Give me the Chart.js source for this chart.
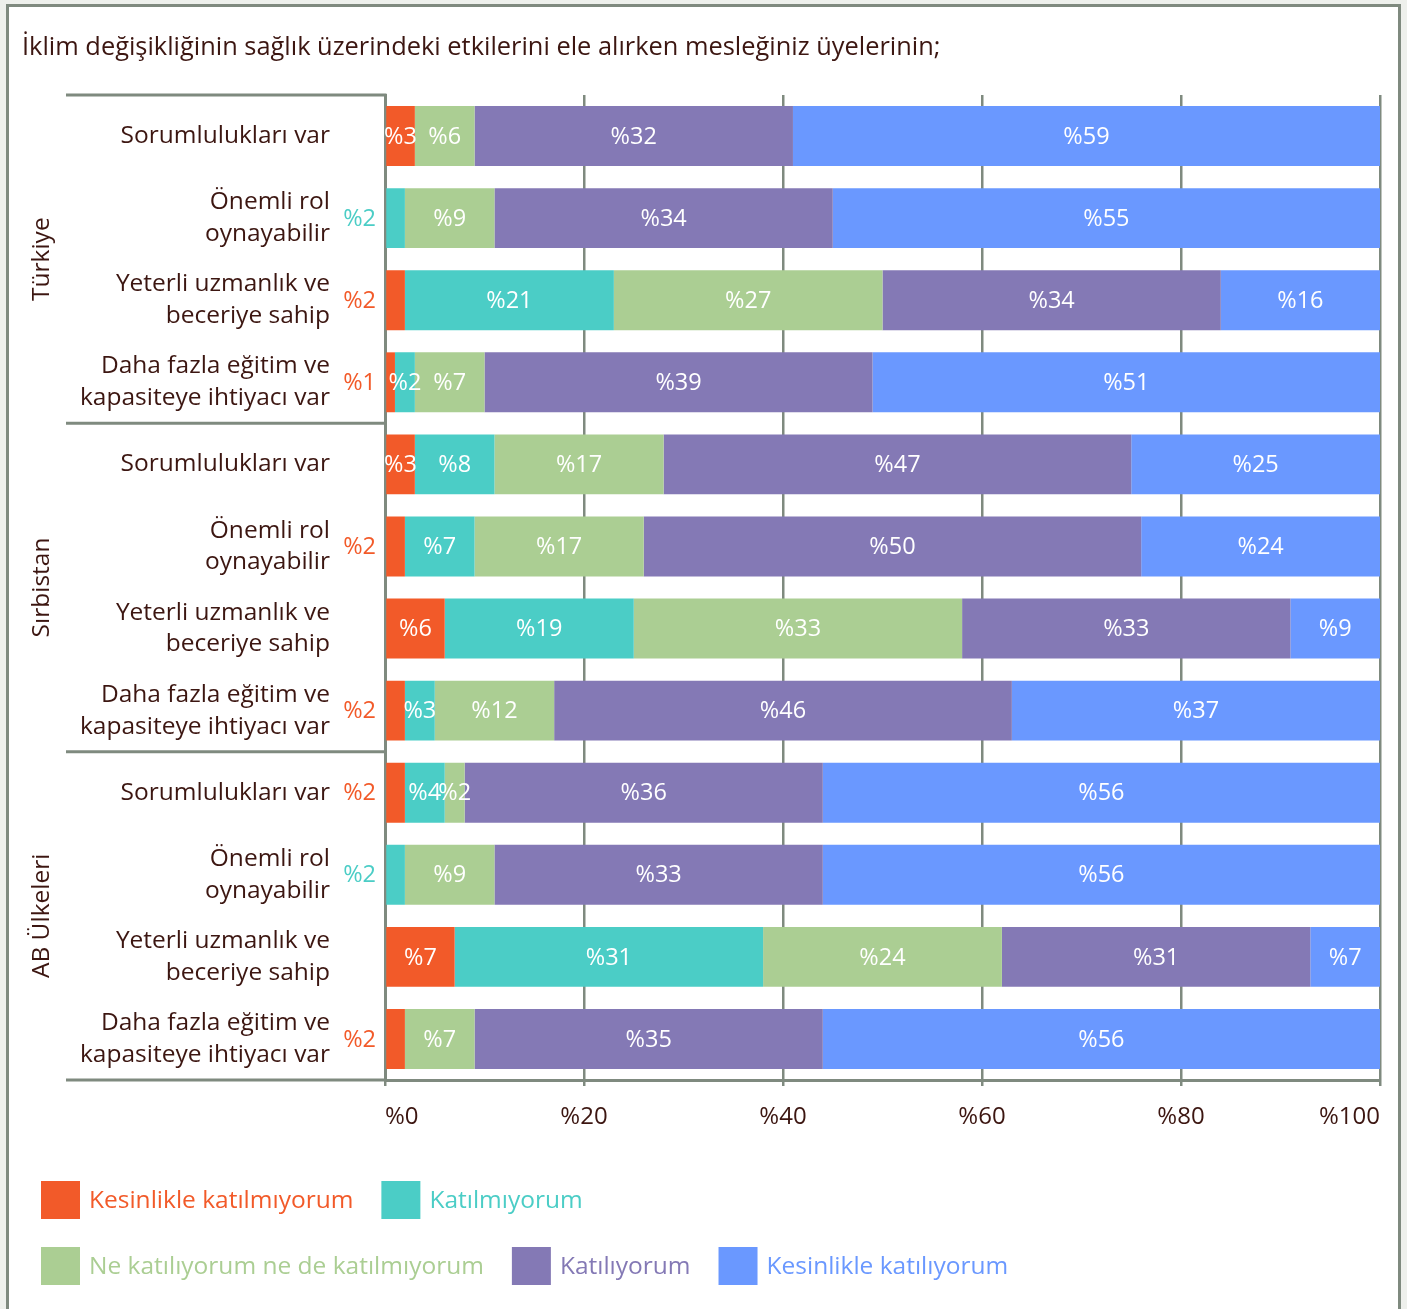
<!DOCTYPE html>
<html lang="tr">
<head>
<meta charset="utf-8">
<title>İklim değişikliği ve sağlık</title>
<script src="https://cdn.jsdelivr.net/npm/chart.js@4.4.1/dist/chart.umd.min.js"></script>
<style>
  html, body { margin: 0; padding: 0; background: #eef0ec; }
  #wrap { position: relative; width: 1407px; height: 1309px; overflow: hidden; }
  #frame { position: absolute; left: 6px; top: 4px; width: 1389px; height: 1400px; border: 3px solid #7f8a7f; background: #fff; }
  #chart { position: absolute; left: 0; top: 0; }
</style>
</head>
<body>
<div id="wrap">
  <div id="frame"></div>
  <canvas id="chart" width="1407" height="1309"></canvas>
</div>
<script>
// Başlık, gruplar ve satır etiketleri
const baslik = 'İklim değişikliğinin sağlık üzerindeki etkilerini ele alırken mesleğiniz üyelerinin;';
const gruplar = ['Türkiye', 'Sırbistan', 'AB Ülkeleri'];
const ifadeler = [
  ['Sorumlulukları var'],
  ['Önemli rol', 'oynayabilir'],
  ['Yeterli uzmanlık ve', 'beceriye sahip'],
  ['Daha fazla eğitim ve', 'kapasiteye ihtiyacı var']
];
const satirlar = gruplar.flatMap(() => ifadeler);

// Seriler (%), sıra: Türkiye x4, Sırbistan x4, AB Ülkeleri x4
const kesinlikleKatilmiyorum = [3, 0, 2, 1, 3, 2, 6, 2, 2, 0, 7, 2];
const katilmiyorum = [0, 2, 21, 2, 8, 7, 19, 3, 4, 2, 31, 0];
const kararsiz = [6, 9, 27, 7, 17, 17, 33, 12, 2, 9, 24, 7];
const katiliyorum = [32, 34, 34, 39, 47, 50, 33, 46, 36, 33, 31, 35];
const kesinlikleKatiliyorum = [59, 55, 16, 51, 25, 24, 9, 37, 56, 56, 7, 56];

const seriAdlari = ['Kesinlikle katılmıyorum', 'Katılmıyorum', 'Ne katılıyorum ne de katılmıyorum', 'Katılıyorum', 'Kesinlikle katılıyorum'];
const renkler = ['#f25a29', '#4bcdc6', '#abce93', '#8479b5', '#6a98ff'];
const eksenTikleri = [0, 20, 40, 60, 80, 100];

const yaziRengi = '#3c1611';
const cizgiRengi = '#7f8a7f';
const FONT = '"Open Sans", Lato, sans-serif';

const seriler = [kesinlikleKatilmiyorum, katilmiyorum, kararsiz, katiliyorum, kesinlikleKatiliyorum];

const ekstralar = {
  id: 'ekstralar',
  beforeDraw(chart) {
    const ctx = chart.ctx;
    ctx.save();
    ctx.fillStyle = yaziRengi;
    ctx.font = '25.4px ' + FONT;
    ctx.textBaseline = 'middle';
    ctx.textAlign = 'left';
    ctx.fillText(baslik, 22, 48);
    ctx.restore();
  },
  afterDatasetsDraw(chart) {
    // Çubuk içi / dışı yüzde etiketleri
    const ctx = chart.ctx;
    const area = chart.chartArea;
    ctx.save();
    ctx.font = '23.5px ' + FONT;
    ctx.textBaseline = 'middle';
    for (let i = 0; i < satirlar.length; i++) {
      let ilk = true;
      chart.data.datasets.forEach((ds, di) => {
        const v = ds.data[i];
        if (!v) return;
        const el = chart.getDatasetMeta(di).data[i];
        const p = el.getProps(['x', 'base', 'y'], true);
        if (ilk && v <= 2) {
          ctx.fillStyle = ds.backgroundColor;
          ctx.textAlign = 'right';
          ctx.fillText('%' + v, area.left - 9, p.y + 1);
        } else {
          ctx.fillStyle = '#ffffff';
          ctx.textAlign = 'center';
          ctx.fillText('%' + v, (p.x + p.base) / 2, p.y + 1);
        }
        ilk = false;
      });
    }
    ctx.restore();
  },
  afterDraw(chart) {
    const ctx = chart.ctx;
    const area = chart.chartArea;
    const satirH = (area.bottom - area.top) / satirlar.length;
    ctx.save();
    // Grup ayırıcı çizgileri
    ctx.strokeStyle = cizgiRengi;
    ctx.lineWidth = 3;
    for (let k = 0; k <= gruplar.length; k++) {
      const y = area.top + k * ifadeler.length * satirH;
      ctx.beginPath();
      ctx.moveTo(66, y);
      ctx.lineTo(area.left + 1.5, y);
      ctx.stroke();
    }
    // Grup adları (dikey)
    ctx.fillStyle = yaziRengi;
    ctx.font = '24.5px ' + FONT;
    ctx.textAlign = 'center';
    ctx.textBaseline = 'middle';
    gruplar.forEach((g, k) => {
      const y = area.top + (k * ifadeler.length + ifadeler.length / 2) * satirH;
      ctx.save();
      ctx.translate(42, y);
      ctx.rotate(-Math.PI / 2);
      ctx.fillText(g, 0, 0);
      ctx.restore();
    });
    // Lejant
    ctx.font = '24.5px ' + FONT;
    ctx.textAlign = 'left';
    const satirlarLejant = [[0, 1], [2, 3, 4]];
    const lejantY = [1200, 1266];
    satirlarLejant.forEach((grup, r) => {
      let x = 41;
      grup.forEach(di => {
        ctx.fillStyle = renkler[di];
        ctx.fillRect(x, lejantY[r] - 19, 39, 38);
        ctx.fillText(seriAdlari[di], x + 48, lejantY[r] + 1);
        x += 48 + ctx.measureText(seriAdlari[di]).width + 28;
      });
    });
    ctx.restore();
  }
};

new Chart(document.getElementById('chart'), {
  type: 'bar',
  data: {
    labels: satirlar,
    datasets: seriler.map((d, i) => ({
      label: seriAdlari[i],
      data: d,
      backgroundColor: renkler[i],
      borderWidth: 0,
      barPercentage: 0.73,
      categoryPercentage: 1
    }))
  },
  options: {
    indexAxis: 'y',
    responsive: false,
    animation: false,
    layout: { padding: { top: 95, right: 27, bottom: 169, left: 0 } },
    scales: {
      x: {
        stacked: true,
        min: 0,
        max: 100,
        afterBuildTicks: (scale) => { scale.ticks = eksenTikleri.map(v => ({ value: v })); },
        afterFit: (scale) => { scale.height = 60; },
        grid: { color: cizgiRengi, lineWidth: 2.5, tickLength: 6, drawTicks: true },
        border: { display: true, color: cizgiRengi, width: 3 },
        ticks: {
          align: 'inner',
          padding: 17,
          color: yaziRengi,
          font: { family: FONT, size: 24 },
          callback: (v) => '%' + v
        }
      },
      y: {
        stacked: true,
        afterFit: (scale) => { scale.width = 385; },
        grid: { display: false, drawTicks: false },
        border: { display: true, color: cizgiRengi, width: 3 },
        ticks: {
          padding: 55,
          color: yaziRengi,
          font: { family: FONT, size: 24.5, lineHeight: 1.3 },
          autoSkip: false
        }
      }
    },
    plugins: {
      legend: { display: false },
      tooltip: { enabled: false }
    }
  },
  plugins: [ekstralar]
});
</script>
</body>
</html>
